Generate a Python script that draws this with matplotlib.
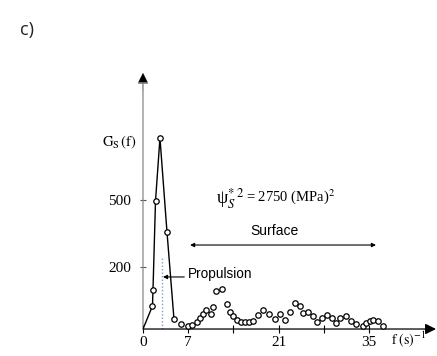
import matplotlib
matplotlib.use("Agg")
import matplotlib.pyplot as plt

#--------------------------------------------------------------------
# DATA (y in the units of the 200/500 ticks)
#--------------------------------------------------------------------
PEAK_F = [0.0, 1.47, 1.55, 1.94, 2.63, 3.72, 4.80]
PEAK_G = [-78, 25, 97, 495, 777, 356, -33]

SURF_F = [
    5.96, 7.05, 7.67, 8.36, 8.91, 9.37, 9.76, 10.61, 10.84, 11.38,
    12.23, 13.01, 13.48, 13.94, 14.56, 15.18, 15.80, 16.49, 17.11, 17.89,
    18.66, 19.51, 20.44, 21.22, 21.99, 22.77, 23.54, 24.39, 24.86, 25.63,
    26.41, 27.03, 27.72, 28.50, 29.27, 29.89, 30.51, 31.52, 32.30, 33.07,
    34.08, 34.62, 35.16, 35.70, 36.48, 37.17
]
SURF_G = [
    -56, -65, -60, -47, -29, -11, 7, -11, 21, 92,
    101, 34, -2, -20, -38, -47, -47, -47, -42, -15,
    7, -11, -33, -11, -38, -2, 38, 25, -6, -2,
    -20, -47, -29, -15, -29, -51, -29, -20, -42, -56,
    -65, -51, -42, -38, -42, -65
]

PROPULSION_F = 2.94
PROPULSION_TOP = 240

X_TICKS = [0, 7, 14, 21, 28, 35]
X_TICKLABELS = ["0", "7", "", "21", "", "35"]
Y_TICKS = [200, 500]

XLIM = (0, 45.4)
YLIM = (-78, 1068)

plt.rcParams["mathtext.fontset"] = "stix"
SERIF = "Liberation Serif"
SANS = "Liberation Sans"

fig = plt.figure(figsize=(4.37, 3.56), dpi=100)
ax = fig.add_axes([0.3272, 0.0758, 0.6705, 0.7191])
ax.set_xlim(*XLIM)
ax.set_ylim(*YLIM)
for sp in ax.spines.values():
    sp.set_visible(False)

# axes with arrow heads
ax.annotate("", xy=(1.0, 0), xytext=(0, 0), xycoords="axes fraction",
            arrowprops=dict(arrowstyle="-|>", color="black", lw=0.9,
                            mutation_scale=16, shrinkA=0, shrinkB=0))
ax.annotate("", xy=(0, 1.0), xytext=(0, 0), xycoords="axes fraction",
            arrowprops=dict(arrowstyle="-|>", color="#888888", lw=0.9,
                            mutation_scale=16, shrinkA=0, shrinkB=0))
ax.annotate("", xy=(0, 1.0), xytext=(0, 0.93), xycoords="axes fraction",
            arrowprops=dict(arrowstyle="-|>", color="black", lw=0.1,
                            mutation_scale=16, shrinkA=0, shrinkB=0))

ax.set_xticks(X_TICKS)
ax.set_xticklabels(X_TICKLABELS, fontfamily=SERIF, fontsize=11)
ax.set_yticks(Y_TICKS)
ax.set_yticklabels([str(v) for v in Y_TICKS], fontfamily=SERIF, fontsize=11)
ax.tick_params(axis="x", direction="inout", length=6, width=0.8, pad=2)
ax.tick_params(axis="y", direction="inout", length=5, width=0.8, pad=6,
               color="#555555")

# data
ax.plot(PEAK_F, PEAK_G, color="black", lw=1.0, zorder=3)
ax.plot(PEAK_F[1:], PEAK_G[1:], "o", ms=3.9, mfc="white", mec="black",
        mew=0.9, zorder=4)
ax.plot(SURF_F, SURF_G, "o", ms=3.9, mfc="white", mec="black", mew=0.9,
        ls="none", zorder=4)

ax.plot([PROPULSION_F, PROPULSION_F], [YLIM[0], PROPULSION_TOP],
        color="#7f9fd0", lw=1.0, ls=(0, (1, 1.5)), zorder=2)

# annotations
ax.annotate("", xy=(3.1, 155), xytext=(6.4, 155),
            arrowprops=dict(arrowstyle="-|>", color="black", lw=0.8,
                            mutation_scale=6, shrinkA=0, shrinkB=0))
ax.text(7.0, 168, "Propulsion", fontfamily=SANS, fontsize=9.8, va="center")

ax.annotate("", xy=(7.3, 298), xytext=(36.1, 298),
            arrowprops=dict(arrowstyle="<|-|>", color="black", lw=0.8,
                            mutation_scale=6, shrinkA=0, shrinkB=0))
ax.text(20.4, 361, "Surface", fontfamily=SANS, fontsize=10, ha="center",
        va="center")

ax.text(11.3, 505, r"ψ$^{*\;2}_{S}$", fontfamily=SERIF, fontsize=13,
        va="center")
ax.text(16.0, 513, r"= 2750 (MPa)$^2$", fontfamily=SERIF, fontsize=10.5,
        va="center")

ax.text(-1.0, 759, r"$\mathrm{G_S\,(f)}$", fontsize=10.5, ha="right",
        va="center")
ax.text(38.4, -125, r"$\mathrm{f\ (s)^{-1}}$", fontsize=10, va="center")

fig.text(0.046, 0.915, "c)", fontfamily="Open Sans", fontsize=13,
         va="center", color="#222222")

fig.savefig("out.png", dpi=100)
